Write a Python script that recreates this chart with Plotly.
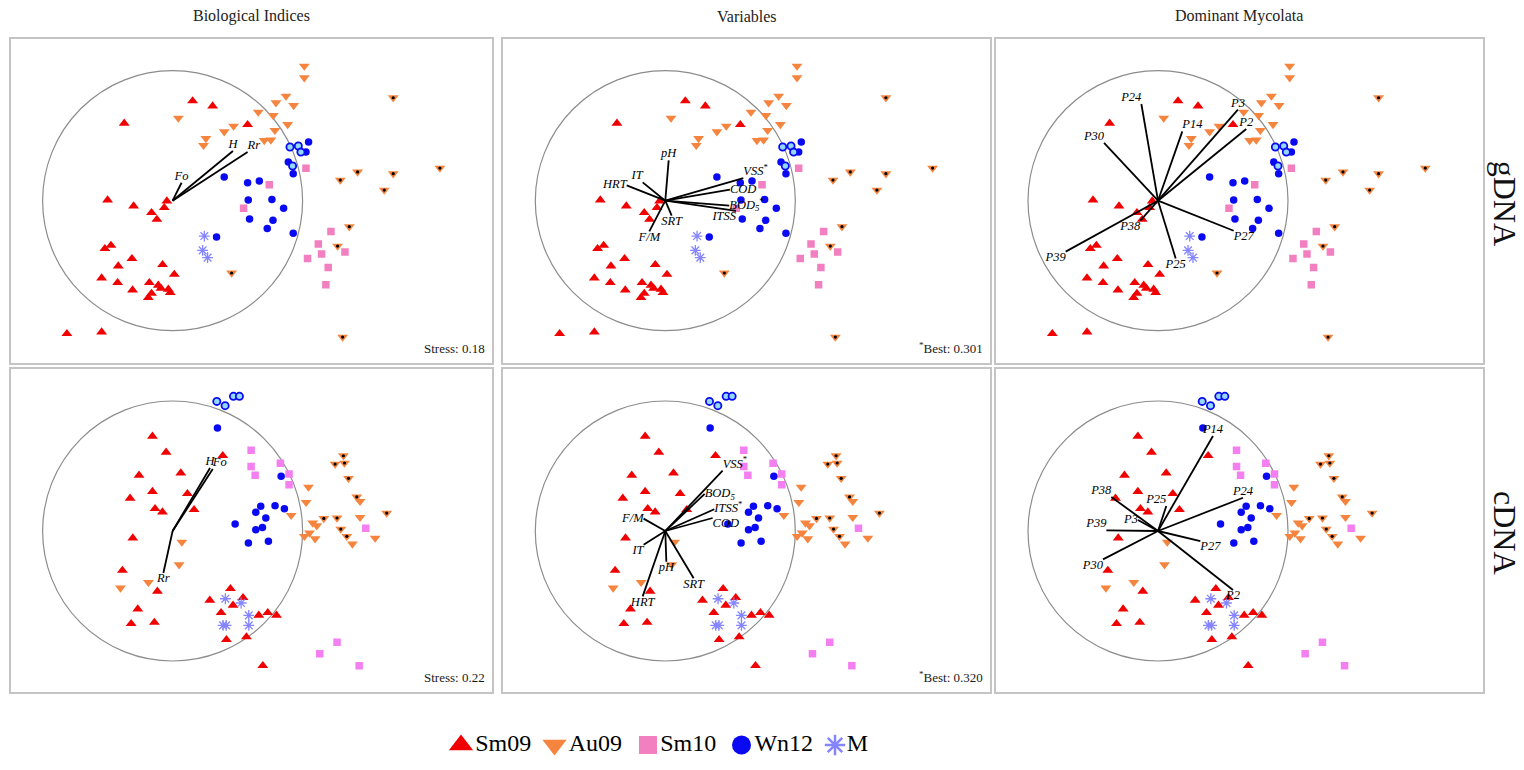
import plotly.graph_objects as go

# ---------------- NMDS scores, gDNA libraries (circle radius = 1) ----------------
G_SM09_X = [0.154, 0.308, -0.372, 0.577, -0.500, -0.300, -0.044, -0.064, -0.162, -0.121,
            -0.474, -0.521, -0.313, -0.418, -0.077, 0.013, -0.546, -0.423, -0.308, -0.179,
            -0.110, -0.090, -0.033, -0.018, -0.162, -0.187, -0.813, -0.546]
G_SM09_Y = [0.767, 0.728, 0.595, 0.585, 0.005, -0.041, -0.003, -0.054, -0.092, -0.144,
            -0.344, -0.369, -0.446, -0.503, -0.492, -0.567, -0.595, -0.631, -0.687, -0.631,
            -0.651, -0.674, -0.682, -0.708, -0.713, -0.746, -1.023, -1.010]

G_AU09_X = [1.013, 1.013, 0.872, 0.795, 0.931, 0.659, 0.774, 0.044, 0.469, 0.397,
            0.885, 0.787, 0.256, 0.238, 0.705, 0.756,
            1.697, 2.056, 1.423, 1.697, 1.290, 1.628, 1.359, 1.269, 0.454, 1.308]
G_AU09_Y = [1.036, 0.946, 0.805, 0.754, 0.733, 0.682, 0.656, 0.636, 0.574, 0.531,
            0.587, 0.541, 0.479, 0.426, 0.464, 0.467,
            0.792, 0.251, 0.221, 0.208, 0.159, 0.082, -0.200, -0.349, -0.556, -1.049]
G_AU09_DOT = [0] * 16 + [1] * 10

G_SM10_X = [1.026, 0.744, 0.546, 1.218, 1.121, 1.146, 1.326, 1.038, 1.197, 1.179]
G_SM10_Y = [0.249, 0.123, -0.059, -0.236, -0.333, -0.410, -0.395, -0.444, -0.513, -0.646]

G_WN12_X = [1.046, 1.026, 0.890, 0.928, 0.397, 0.577, 0.667, 0.582, 0.764, 0.854,
            0.592, 0.772, 0.728, 0.928, 0.338, 0.903, 0.967, 0.987, 0.923]
G_WN12_Y = [0.451, 0.374, 0.297, 0.208, 0.182, 0.138, 0.151, 0.005, 0.010, -0.059,
            -0.141, -0.151, -0.213, -0.251, -0.279, 0.413, 0.421, 0.374, 0.267]
G_WN12_OPEN = [0] * 15 + [1] * 4

G_M_X = [0.244, 0.231, 0.269]
G_M_Y = [-0.272, -0.382, -0.438]

# ---------------- NMDS scores, cDNA libraries ----------------
C_SM09_X = [-0.155, -0.050, 0.386, -0.258, 0.063, -0.155, -0.327, 0.114, -0.135, -0.078,
            0.165, -0.306, -0.386, -0.117, -0.268, -0.319, -0.140, 0.445, 0.286, 0.542,
            0.465, 0.373, 0.663, 0.732, 0.799, 0.414, 0.568, 0.694]
C_SM09_Y = [0.728, 0.605, 0.579, 0.428, 0.446, 0.303, 0.251, 0.287, 0.172, 0.146,
            0.164, -0.054, -0.303, -0.464, -0.600, -0.713, -0.703, -0.444, -0.533, -0.513,
            -0.572, -0.628, -0.649, -0.628, -0.649, -0.836, -0.815, -1.036]

C_AU09_X = [1.045, 1.027, 0.912, 1.078, 1.109, 1.014, 1.053, 1.096, 1.442, 1.442,
            1.383, 1.558, 0.071, 0.050, -0.186, -0.401,
            1.314, 1.250, 1.322, 1.353, 1.417, 1.163, 1.265, 1.294, 1.340, 1.647]
C_AU09_Y = [0.338, 0.221, 0.121, 0.062, 0.041, -0.041, -0.015, -0.059, 0.105, 0.228,
            -0.100, -0.054, -0.085, -0.259, -0.395, -0.438,
            0.579, 0.515, 0.523, 0.405, 0.262, 0.097, 0.100, 0.015, -0.041, 0.138]
C_AU09_DOT = [0] * 16 + [1] * 10

C_SM10_X = [0.604, 0.604, 0.635, 0.829, 0.896, 0.896, 1.486, 1.265, 1.132, 1.435]
C_SM10_Y = [0.621, 0.497, 0.428, 0.521, 0.438, 0.356, 0.021, -0.856, -0.944, -1.036]

C_WN12_X = [0.345, 0.835, 0.678, 0.640, 0.788, 0.860, 0.717, 0.481, 0.640, 0.691,
            0.583, 0.737, 0.340, 0.404, 0.468, 0.514]
C_WN12_Y = [0.792, 0.421, 0.190, 0.144, 0.195, 0.172, 0.100, 0.054, 0.010, 0.026,
            -0.092, -0.079, 0.997, 0.964, 1.036, 1.036]
C_WN12_OPEN = [0] * 12 + [1] * 4

C_M_X = [0.406, 0.527, 0.586, 0.586, 0.388, 0.412]
C_M_Y = [-0.521, -0.554, -0.649, -0.726, -0.726, -0.726]

# ---------------- fitted vectors (correlation scores) ----------------
G_BIO_NAMES = ["Fo", "H", "Rr"]
G_BIO_X = [0.069, 0.464, 0.577]
G_BIO_Y = [0.138, 0.382, 0.374]

C_BIO_NAMES = ["H", "Fo", "Rr"]
C_BIO_X = [0.288, 0.309, -0.071]
C_BIO_Y = [0.485, 0.477, -0.323]

G_VAR_NAMES = ["pH", "IT", "HRT", "F/M", "SRT", "VSS", "COD", "BOD5", "ITSS"]
G_VAR_X = [0.026, -0.174, -0.297, -0.123, 0.049, 0.600, 0.497, 0.492, 0.544]
G_VAR_Y = [0.310, 0.141, 0.118, -0.236, -0.115, 0.174, 0.085, -0.038, -0.079]
G_VAR_BEST = [0, 0, 0, 0, 0, 1, 0, 1, 0]

C_VAR_NAMES = ["VSS", "BOD5", "ITSS", "COD", "F/M", "IT", "pH", "SRT", "HRT"]
C_VAR_X = [0.441, 0.303, 0.377, 0.364, -0.167, -0.167, 0.008, 0.218, -0.174]
C_VAR_Y = [0.464, 0.285, 0.167, 0.100, 0.095, -0.105, -0.236, -0.364, -0.503]
C_VAR_BEST = [1, 0, 1, 0, 0, 0, 0, 0, 0]

G_MYC_NAMES = ["P24", "P30", "P14", "P3", "P2", "P27", "P25", "P39", "P38"]
G_MYC_X = [-0.128, -0.415, 0.187, 0.615, 0.679, 0.582, 0.136, -0.710, -0.136]
G_MYC_Y = [0.744, 0.444, 0.533, 0.700, 0.551, -0.231, -0.444, -0.392, -0.154]

C_MYC_NAMES = ["P14", "P38", "P25", "P24", "P3", "P39", "P27", "P30", "P2"]
C_MYC_X = [0.423, -0.359, 0.064, 0.654, -0.154, -0.397, 0.326, -0.423, 0.577]
C_MYC_Y = [0.731, 0.262, 0.192, 0.256, 0.085, 0.005, -0.077, -0.218, -0.454]

STRESS_G = 0.18
STRESS_C = 0.22
BEST_G = 0.301
BEST_C = 0.320

COL_TITLES = ["Biological Indices", "Variables", "Dominant Mycolata"]
ROW_TITLES = ["gDNA", "cDNA"]
GROUPS = ["Sm09", "Au09", "Sm10", "Wn12", "M"]

# ---------------- styling ----------------
SERIF = "Liberation Serif"
RED = "#f00000"
ORANGE = "#f5843f"
PINK_G = "#f27fbf"
PINK_C = "#f37ff0"
BLUE = "#0a0af2"
CYAN = "#92d8ff"
LAVENDER = "#8585ff"

# label placement around each vector tip
G_BIO_POS = ["top center", "top center", "top right"]
C_BIO_POS = ["top center", "top right", "bottom center"]
G_VAR_POS = ["top center", "top left", "middle left", "bottom center", "bottom center",
             "top right", "middle right", "middle right", "bottom left"]
C_VAR_POS = ["top right", "middle right", "middle right", "bottom right", "middle left",
             "bottom left", "bottom center", "bottom center", "bottom center"]
G_MYC_POS = ["top left", "top left", "top right", "top center", "top center",
             "bottom right", "bottom center", "bottom left", "bottom left"]
C_MYC_POS = ["top center", "top left", "top left", "top center", "middle left",
             "top left", "bottom right", "bottom left", "bottom center"]

FIG_W, FIG_H = 1524, 770
PX_PER_UNIT = 130.0
COL_BOX = [(10.7, 491.5), (503.3, 990.0), (995.7, 1483.0)]
COL_CX = [172.6, 665.3, 1158.0]
ROW_BOX = [(38.7, 362.7), (368.7, 692.0)]
ROW_CY = [200.7, 531.0]

ordinations = [
    dict(sm09=(G_SM09_X, G_SM09_Y), au09=(G_AU09_X, G_AU09_Y, G_AU09_DOT),
         sm10=(G_SM10_X, G_SM10_Y), wn12=(G_WN12_X, G_WN12_Y, G_WN12_OPEN),
         m=(G_M_X, G_M_Y), pink=PINK_G),
    dict(sm09=(C_SM09_X, C_SM09_Y), au09=(C_AU09_X, C_AU09_Y, C_AU09_DOT),
         sm10=(C_SM10_X, C_SM10_Y), wn12=(C_WN12_X, C_WN12_Y, C_WN12_OPEN),
         m=(C_M_X, C_M_Y), pink=PINK_C),
]

vectors = [
    [(G_BIO_NAMES, G_BIO_X, G_BIO_Y, None, G_BIO_POS),
     (G_VAR_NAMES, G_VAR_X, G_VAR_Y, G_VAR_BEST, G_VAR_POS),
     (G_MYC_NAMES, G_MYC_X, G_MYC_Y, None, G_MYC_POS)],
    [(C_BIO_NAMES, C_BIO_X, C_BIO_Y, None, C_BIO_POS),
     (C_VAR_NAMES, C_VAR_X, C_VAR_Y, C_VAR_BEST, C_VAR_POS),
     (C_MYC_NAMES, C_MYC_X, C_MYC_Y, None, C_MYC_POS)],
]

notes = [
    [f"Stress: {STRESS_G:.2f}", f"<sup>*</sup>Best: {BEST_G:.3f}", None],
    [f"Stress: {STRESS_C:.2f}", f"<sup>*</sup>Best: {BEST_C:.3f}", None],
]


def pick(vals, flags, want):
    return [v for v, f in zip(vals, flags) if f == want]


def label_html(name, star):
    txt = name.replace("BOD5", "BOD<sub>5</sub>")
    txt = f"<i>{txt}</i>"
    if star:
        txt += "<sup>*</sup>"
    return txt


fig = go.Figure()
shapes, annotations = [], []
layout_axes = {}

for r in range(2):
    ordn = ordinations[r]
    top_px, bot_px = ROW_BOX[r]
    cy = ROW_CY[r]
    for c in range(3):
        k = r * 3 + c + 1
        xa = "x" if k == 1 else f"x{k}"
        ya = "y" if k == 1 else f"y{k}"
        left_px, right_px = COL_BOX[c]
        cx = COL_CX[c]

        axis_common = dict(showgrid=False, zeroline=False, showticklabels=False, ticks="",
                           showline=True, mirror=True, linecolor="#c4c4c4", linewidth=1.5,
                           fixedrange=True)
        layout_axes["xaxis" if k == 1 else f"xaxis{k}"] = dict(
            domain=[left_px / FIG_W, right_px / FIG_W],
            range=[(left_px - cx) / PX_PER_UNIT, (right_px - cx) / PX_PER_UNIT],
            anchor=ya, **axis_common)
        layout_axes["yaxis" if k == 1 else f"yaxis{k}"] = dict(
            domain=[1 - bot_px / FIG_H, 1 - top_px / FIG_H],
            range=[-(bot_px - cy) / PX_PER_UNIT, (cy - top_px) / PX_PER_UNIT],
            anchor=xa, **axis_common)

        # unit circle
        shapes.append(dict(type="circle", xref=xa, yref=ya, x0=-1, y0=-1, x1=1, y1=1,
                           line=dict(color="#8c8c8c", width=1.2), layer="below"))

        common = dict(xaxis=xa, yaxis=ya, mode="markers", showlegend=False, hoverinfo="skip")

        # Sm10 squares
        fig.add_trace(go.Scatter(x=ordn["sm10"][0], y=ordn["sm10"][1],
                                 marker=dict(symbol="square", size=7.5, color=ordn["pink"]),
                                 **common))
        # Au09 triangles (plain and dotted)
        ax_, ay_, adot = ordn["au09"]
        fig.add_trace(go.Scatter(x=ax_, y=ay_,
                                 marker=dict(symbol="triangle-down", size=9.5, color=ORANGE),
                                 **common))
        fig.add_trace(go.Scatter(x=pick(ax_, adot, 1), y=pick(ay_, adot, 1),
                                 marker=dict(symbol="circle", size=3.2, color="black"),
                                 **common))
        # Sm09 triangles
        fig.add_trace(go.Scatter(x=ordn["sm09"][0], y=ordn["sm09"][1],
                                 marker=dict(symbol="triangle-up", size=9.5, color=RED),
                                 **common))
        # Wn12 circles (filled and ringed)
        wx, wy, wopen = ordn["wn12"]
        fig.add_trace(go.Scatter(x=pick(wx, wopen, 0), y=pick(wy, wopen, 0),
                                 marker=dict(symbol="circle", size=7.5, color=BLUE),
                                 **common))
        fig.add_trace(go.Scatter(x=pick(wx, wopen, 1), y=pick(wy, wopen, 1),
                                 marker=dict(symbol="circle", size=7.2, color=CYAN,
                                             line=dict(color=BLUE, width=1.8)),
                                 **common))
        # M asterisks
        fig.add_trace(go.Scatter(x=ordn["m"][0], y=ordn["m"][1],
                                 marker=dict(symbol="asterisk-open", size=9, color=LAVENDER,
                                             line=dict(color=LAVENDER, width=1.3)),
                                 **common))

        # fitted vectors
        names, vx, vy, best, pos = vectors[r][c]
        lx, ly = [], []
        for x1, y1 in zip(vx, vy):
            lx += [0, x1, None]
            ly += [0, y1, None]
        fig.add_trace(go.Scatter(x=lx, y=ly, xaxis=xa, yaxis=ya, mode="lines",
                                 line=dict(color="black", width=1.8),
                                 showlegend=False, hoverinfo="skip"))
        stars = best if best is not None else [0] * len(names)
        fig.add_trace(go.Scatter(x=vx, y=vy, xaxis=xa, yaxis=ya, mode="text",
                                 text=[label_html(n, s) for n, s in zip(names, stars)],
                                 textposition=pos,
                                 textfont=dict(family=SERIF, size=12.5, color="black"),
                                 cliponaxis=False, showlegend=False, hoverinfo="skip"))

        note = notes[r][c]
        if note:
            annotations.append(dict(text=note, xref=f"{xa} domain", yref=f"{ya} domain",
                                    x=0.99, y=0.015, xanchor="right", yanchor="bottom",
                                    showarrow=False,
                                    font=dict(family=SERIF, size=13, color="#1a1a1a")))

# column titles
for c, title in enumerate(COL_TITLES):
    left_px, right_px = COL_BOX[c]
    annotations.append(dict(text=title, xref="paper", yref="paper",
                            x=(left_px + right_px) / 2 / FIG_W, y=1 - 16 / FIG_H,
                            xanchor="center", yanchor="middle", showarrow=False,
                            font=dict(family=SERIF, size=16, color="#222222")))

# row titles
for r, title in enumerate(ROW_TITLES):
    annotations.append(dict(text=title, xref="paper", yref="paper",
                            x=1505 / FIG_W, y=1 - (ROW_CY[r] + 2) / FIG_H,
                            xanchor="center", yanchor="middle", textangle=90,
                            showarrow=False,
                            font=dict(family=SERIF, size=32, color="#111111")))

# legend row drawn on its own axis
leg_left, leg_right, leg_first, leg_step = 400.0, 920.0, 461.0, 93.5
layout_axes["xaxis7"] = dict(domain=[leg_left / FIG_W, leg_right / FIG_W],
                             range=[(leg_left - leg_first) / leg_step,
                                    (leg_right - leg_first) / leg_step],
                             visible=False, fixedrange=True, anchor="y7")
layout_axes["yaxis7"] = dict(domain=[1 - 765 / FIG_H, 1 - 725 / FIG_H], range=[-1, 1],
                             visible=False, fixedrange=True, anchor="x7")
legend_markers = [
    dict(symbol="triangle-up", size=21, color=RED),
    dict(symbol="triangle-down", size=21, color=ORANGE),
    dict(symbol="square", size=18, color=PINK_G),
    dict(symbol="circle", size=19, color=BLUE),
    dict(symbol="asterisk-open", size=17, color=LAVENDER,
         line=dict(color=LAVENDER, width=2.5)),
]
for i, (name, mk) in enumerate(zip(GROUPS, legend_markers)):
    fig.add_trace(go.Scatter(x=[i], y=[0], xaxis="x7", yaxis="y7", mode="markers+text",
                             marker=mk, text=[name], textposition="middle right",
                             textfont=dict(family=SERIF, size=24, color="black"),
                             cliponaxis=False, showlegend=False, hoverinfo="skip"))

fig.update_layout(
    width=FIG_W, height=FIG_H,
    margin=dict(l=0, r=0, t=0, b=0),
    paper_bgcolor="white", plot_bgcolor="white",
    shapes=shapes, annotations=annotations,
    showlegend=False,
    **layout_axes,
)

fig.write_html("out.html")
